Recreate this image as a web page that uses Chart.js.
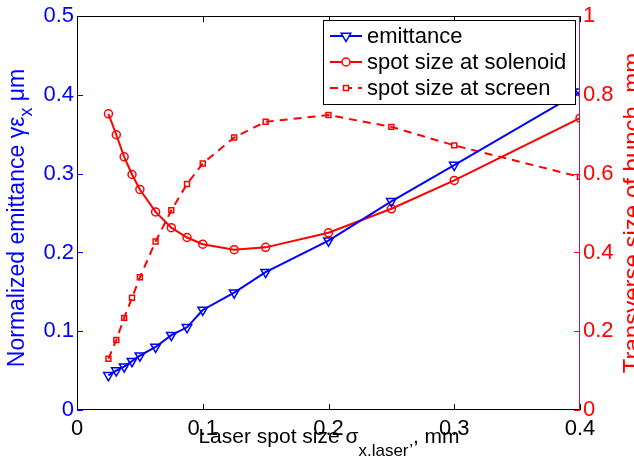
<!DOCTYPE html>
<html>
<head>
<meta charset="utf-8">
<script src="https://cdn.jsdelivr.net/npm/chart.js@4.4.1/dist/chart.umd.min.js"></script>
<style>
  html, body { margin: 0; padding: 0; background: #fff; }
  #wrap { width: 634px; height: 462px; }
</style>
</head>
<body>
<div id="wrap"><canvas id="chart" width="634" height="462"></canvas></div>
<script>
const FONT = '"Liberation Sans", Arial, Helvetica, sans-serif';
const BLUE = '#0000ff';
const RED = '#ff0000';

// laser spot size, mm
const spotSize = [0.025, 0.03125, 0.0375, 0.04375, 0.05, 0.0625, 0.075, 0.0875, 0.1, 0.125, 0.15, 0.2, 0.25, 0.3, 0.4];
// normalized emittance, um (left axis)
const emittance = [0.044, 0.050, 0.055, 0.062, 0.069, 0.080, 0.095, 0.105, 0.127, 0.149, 0.175, 0.215, 0.265, 0.311, 0.404];
// transverse bunch size, mm (right axis)
const sizeSolenoid = [0.752, 0.699, 0.643, 0.598, 0.560, 0.503, 0.463, 0.438, 0.421, 0.407, 0.413, 0.450, 0.511, 0.583, 0.741];
const sizeScreen = [0.130, 0.178, 0.234, 0.285, 0.337, 0.428, 0.507, 0.574, 0.626, 0.692, 0.732, 0.749, 0.719, 0.672, 0.592];

const seriesNames = ['emittance', 'spot size at solenoid', 'spot size at screen'];

const pts = ys => spotSize.map((x, i) => ({ x, y: ys[i] }));
const fmt = v => String(+v.toFixed(2));

// frame, inward ticks, axis titles
const framePlugin = {
    id: 'frame',
    afterDraw(chart) {
        const { ctx, chartArea: a, scales } = chart;
        const tl = 6;
        ctx.save();
        ctx.lineWidth = 1;
        // ticks
        ctx.strokeStyle = '#000';
        scales.x.ticks.forEach(t => {
            const px = Math.round(scales.x.getPixelForValue(t.value)) + 0.5;
            ctx.beginPath();
            ctx.moveTo(px, a.bottom); ctx.lineTo(px, a.bottom - tl);
            ctx.moveTo(px, a.top); ctx.lineTo(px, a.top + tl);
            ctx.stroke();
        });
        ctx.strokeStyle = BLUE;
        scales.y.ticks.forEach(t => {
            const py = Math.round(scales.y.getPixelForValue(t.value)) + 0.5;
            ctx.beginPath(); ctx.moveTo(a.left, py); ctx.lineTo(a.left + tl, py); ctx.stroke();
        });
        ctx.strokeStyle = RED;
        scales.y2.ticks.forEach(t => {
            const py = Math.round(scales.y2.getPixelForValue(t.value)) + 0.5;
            ctx.beginPath(); ctx.moveTo(a.right, py); ctx.lineTo(a.right - tl, py); ctx.stroke();
        });
        // box
        const L = Math.round(a.left) + 0.5, R = Math.round(a.right) - 0.5;
        const T = Math.round(a.top) + 0.5, B = Math.round(a.bottom) - 0.5;
        ctx.strokeStyle = '#000';
        ctx.beginPath();
        ctx.moveTo(R, T); ctx.lineTo(L, T); ctx.lineTo(L, B); ctx.lineTo(R, B);
        ctx.stroke();
        ctx.strokeStyle = '#b0186e';
        ctx.beginPath(); ctx.moveTo(R, T); ctx.lineTo(R, B); ctx.stroke();

        // x title with subscript
        ctx.fillStyle = '#000';
        ctx.textBaseline = 'alphabetic';
        const xParts = [['Laser spot size \u03c3', 21, 0], ['x.laser\u2019', 17, 13], [', mm', 21, 0]];
        drawParts(ctx, xParts, 329, 443, 0);

        // left title
        ctx.fillStyle = BLUE;
        const yParts = [['Normalized emittance \u03b3\u03b5', 23, 0], ['x', 18, 8], [' \u03bcm', 23, 0]];
        drawParts(ctx, yParts, 24, 218, -Math.PI / 2);

        // right title
        ctx.fillStyle = RED;
        drawParts(ctx, [['Transverse size of bunch, mm', 24, 0]], 640, 213, -Math.PI / 2);
        ctx.restore();
    }
};

function drawParts(ctx, parts, cx, cy, rot) {
    ctx.save();
    ctx.translate(cx, cy);
    ctx.rotate(rot);
    let total = 0;
    parts.forEach(([s, size]) => { ctx.font = size + 'px ' + FONT; total += ctx.measureText(s).width; });
    let x = -total / 2;
    parts.forEach(([s, size, dy]) => {
        ctx.font = size + 'px ' + FONT;
        ctx.fillText(s, x, dy);
        x += ctx.measureText(s).width;
    });
    ctx.restore();
}

// matlab-style legend box
const legendPlugin = {
    id: 'boxLegend',
    afterDraw(chart) {
        const { ctx } = chart;
        const bx = 323, by = 20, bw = 252, bh = 84;
        ctx.save();
        ctx.fillStyle = '#fff';
        ctx.fillRect(bx, by, bw, bh);
        ctx.strokeStyle = '#000';
        ctx.lineWidth = 1;
        ctx.strokeRect(bx + 0.5, by + 0.5, bw, bh);
        chart.data.datasets.forEach((ds, i) => {
            const y = 36 + i * 26;
            ctx.strokeStyle = ds.borderColor;
            ctx.lineWidth = 2;
            ctx.setLineDash(ds.borderDash || []);
            ctx.beginPath(); ctx.moveTo(330, y); ctx.lineTo(362, y); ctx.stroke();
            ctx.setLineDash([]);
            ctx.lineWidth = 1.5;
            ctx.fillStyle = '#fff';
            Chart.helpers.drawPoint(ctx, {
                pointStyle: ds.pointStyle, radius: ds.pointRadius, rotation: ds.pointRotation || 0, borderWidth: 1.5
            }, 346, y);
            ctx.fillStyle = '#000';
            ctx.font = '22px ' + FONT;
            ctx.textBaseline = 'middle';
            ctx.fillText(ds.label, 367, y + 1);
        });
        ctx.restore();
    }
};

new Chart(document.getElementById('chart'), {
    type: 'line',
    data: {
        datasets: [
            {
                label: seriesNames[0],
                data: pts(emittance),
                yAxisID: 'y',
                borderColor: BLUE,
                backgroundColor: 'rgba(0,0,0,0)',
                borderWidth: 2,
                pointStyle: 'triangle',
                pointRotation: 180,
                pointRadius: 5.5,
                pointBorderWidth: 1.5,
                pointBackgroundColor: 'rgba(0,0,0,0)'
            },
            {
                label: seriesNames[1],
                data: pts(sizeSolenoid),
                yAxisID: 'y2',
                borderColor: RED,
                backgroundColor: 'rgba(0,0,0,0)',
                borderWidth: 2,
                pointStyle: 'circle',
                pointRadius: 4,
                pointBorderWidth: 1.5,
                pointBackgroundColor: 'rgba(0,0,0,0)'
            },
            {
                label: seriesNames[2],
                data: pts(sizeScreen),
                yAxisID: 'y2',
                borderColor: RED,
                backgroundColor: 'rgba(0,0,0,0)',
                borderWidth: 2,
                borderDash: [8, 6],
                pointStyle: 'rect',
                pointRadius: 3.5,
                pointBorderWidth: 1.5,
                pointBackgroundColor: 'rgba(0,0,0,0)'
            }
        ]
    },
    options: {
        responsive: false,
        animation: false,
        layout: { padding: { top: 14, left: 0, right: 0, bottom: 0 } },
        plugins: { legend: { display: false }, tooltip: { enabled: false } },
        elements: { line: { tension: 0 } },
        scales: {
            x: {
                type: 'linear',
                min: 0, max: 0.4,
                ticks: { stepSize: 0.1, color: '#000', font: { family: FONT, size: 22 }, padding: 6, maxRotation: 0, callback: fmt },
                grid: { display: false, drawTicks: false },
                border: { display: false },
                afterFit: s => { s.height = 52; }
            },
            y: {
                position: 'left',
                min: 0, max: 0.5,
                ticks: { stepSize: 0.1, color: BLUE, font: { family: FONT, size: 22 }, padding: 3, callback: fmt },
                grid: { display: false, drawTicks: false },
                border: { display: false },
                afterFit: s => { s.width = 77; }
            },
            y2: {
                position: 'right',
                min: 0, max: 1,
                ticks: { stepSize: 0.2, color: RED, font: { family: FONT, size: 22 }, padding: 3, callback: fmt },
                grid: { display: false, drawTicks: false },
                border: { display: false },
                afterFit: s => { s.width = 54; }
            }
        }
    },
    plugins: [framePlugin, legendPlugin]
});
</script>
</body>
</html>
